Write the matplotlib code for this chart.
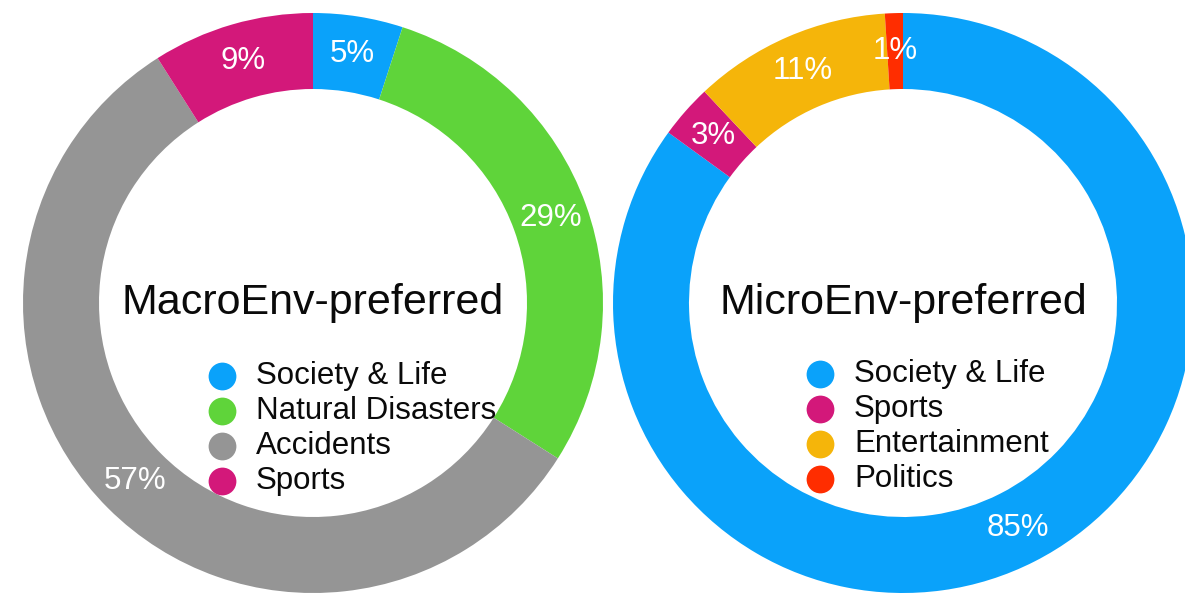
import matplotlib.pyplot as plt

plt.rcParams["font.family"] = ["Liberation Sans", "DejaVu Sans"]

# Share of samples by news topic, for each preference group
macro_labels = ["Society & Life", "Natural Disasters", "Accidents", "Sports"]
macro_values = [5, 29, 57, 9]
macro_colors = ["#0aa2fa", "#5fd43a", "#959595", "#d3187a"]

micro_labels = ["Society & Life", "Sports", "Entertainment", "Politics"]
micro_values = [85, 3, 11, 1]
micro_colors = ["#0aa2fa", "#d3187a", "#f5b50a", "#ff2d00"]

W, H = 1185, 596
fig = plt.figure(figsize=(W / 100, H / 100), dpi=100)
ax = fig.add_axes([0, 0, 1, 1])

R = 290
RING = 76


def donut(cx, cy, values, colors, labels, title, leg_x, leg_y):
    ax.pie(values, colors=colors, startangle=90, counterclock=False,
           radius=R, center=(cx, cy),
           wedgeprops=dict(width=RING, edgecolor="none"),
           autopct="%.0f%%", pctdistance=0.87,
           textprops=dict(color="white", fontsize=22.5))
    ax.text(cx, cy, title, ha="center", va="center", fontsize=31, color="#0a0a0a")
    for i, (lab, col) in enumerate(zip(labels, colors)):
        y = leg_y - i * 35
        ax.plot(leg_x, y, "o", ms=20, color=col, mec="none")
        ax.text(leg_x + 34, y, lab, ha="left", va="center", fontsize=22.5,
                color="#0a0a0a")


donut(313, H - 303, macro_values, macro_colors, macro_labels,
      "MacroEnv-preferred", 222, H - 376)
donut(903, H - 303, micro_values, micro_colors, micro_labels,
      "MicroEnv-preferred", 820, H - 374)

ax.set_xlim(0, W)
ax.set_ylim(0, H)
ax.set_aspect("equal")
ax.axis("off")

fig.savefig("out.png", dpi=100)
